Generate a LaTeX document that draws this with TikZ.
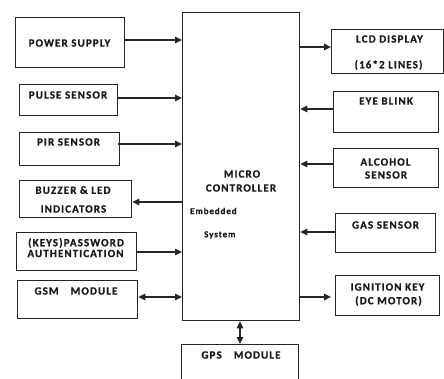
\documentclass[tikz,border=0pt]{standalone}
\usepackage{fontspec}
\setmainfont{Carlito}
\newfontfamily\lblfont{Carlito}[LetterSpace=10,BoldFeatures={FakeBold=0.8}]
\usetikzlibrary{arrows.meta}
\begin{document}
\begin{tikzpicture}[x=1pt,y=-1pt,
  box/.style={draw=black!85,line width=1.3pt,rectangle,inner sep=0pt,anchor=north west},
  txt/.style={inner sep=0pt,font=\lblfont\bfseries\fontsize{11}{12}\selectfont,text=black!90},
  small/.style={inner sep=0pt,anchor=west,font=\lblfont\bfseries\fontsize{9}{10}\selectfont,text=black!90},
  arr/.style={draw=black!85,line width=1.3pt,-{Triangle[length=7pt,width=6.5pt]}},
  darr/.style={draw=black!85,line width=1.3pt,{Triangle[length=7pt,width=6.5pt]}-{Triangle[length=7pt,width=6.5pt]}}]
\useasboundingbox (0,0) rectangle (444,378);
\clip (0,0) rectangle (444,378);
% micro controller
\node[box,minimum width=117pt,minimum height=308pt] (mc) at (182,12) {};
% left boxes
\node[box,minimum width=109pt,minimum height=50pt] (ps) at (15,17) {};
\node[box,minimum width=98pt,minimum height=31pt] (pulse) at (19,84) {};
\node[box,minimum width=100pt,minimum height=33pt] (pir) at (19,132) {};
\node[box,minimum width=112pt,minimum height=37pt] (buz) at (19,180) {};
\node[box,minimum width=120pt,minimum height=38pt] (key) at (16,232) {};
\node[box,minimum width=120pt,minimum height=38pt] (gsm) at (17,280) {};
% right boxes
\node[box,minimum width=112pt,minimum height=44pt] (lcd) at (331,29) {};
\node[box,minimum width=105pt,minimum height=41pt] (eye) at (333,91) {};
\node[box,minimum width=105pt,minimum height=39pt] (alc) at (333,148) {};
\node[box,minimum width=100pt,minimum height=39pt] (gas) at (335,213) {};
\node[box,minimum width=104pt,minimum height=40pt] (ign) at (335,275) {};
% gps
\node[box,minimum width=117pt,minimum height=50pt] (gps) at (181,344) {};
% texts
\node[txt] (t1) at (69.5,43) {POWER SUPPLY};
\node[txt] (t2) at (68,95) {PULSE SENSOR};
\node[txt] (t3) at (68.5,142) {PIR SENSOR};
\node[txt] (t4a) at (73,190) {BUZZER \& LED};
\node[txt] (t4b) at (73.5,209) {INDICATORS};
\node[txt] (t5a) at (76,243) {(KEYS)PASSWORD};
\node[txt] (t5b) at (75.5,253.5) {AUTHENTICATION};
\node[txt] (t6) at (76,291) {GSM\hspace{1.1em}MODULE};
\node[txt] (t7a) at (389.5,39) {LCD DISPLAY};
\node[txt] (t7b) at (388.5,65) {(16*2 LINES)};
\node[txt] (t8) at (386,101) {EYE BLINK};
\node[txt] (t9a) at (385.5,162) {ALCOHOL};
\node[txt] (t9b) at (386,175) {SENSOR};
\node[txt] (t10) at (385.5,225) {GAS SENSOR};
\node[txt] (t11a) at (387.5,287) {IGNITION KEY};
\node[txt] (t11b) at (388.5,301) {(DC MOTOR)};
\node[txt] (t12a) at (242,174) {MICRO};
\node[txt] (t12b) at (241,188) {CONTROLLER};
\node[small] (t13) at (190,211) {Embedded};
\node[small] (t14) at (204,235) {System};
\node[txt] (t15) at (241,355) {GPS\hspace{1.1em}MODULE};
% connectors
\coordinate (y1) at (0,40);
\coordinate (y2) at (0,98);
\coordinate (y3) at (0,144);
\coordinate (y4) at (0,202);
\coordinate (y5) at (0,252);
\coordinate (y6) at (0,297);
\coordinate (y7) at (0,47);
\coordinate (y8) at (0,109);
\coordinate (y9) at (0,164);
\coordinate (y10) at (0,232);
\coordinate (y11) at (0,297);
\coordinate (xg) at (240,0);
\draw[arr] (ps.east |- y1) -- (mc.west |- y1);
\draw[arr] (pulse.east |- y2) -- (mc.west |- y2);
\draw[arr] (pir.east |- y3) ++(-2,0) -- (mc.west |- y3);
\draw[arr] (mc.west |- y4) -- (buz.east |- y4);
\draw[arr] (key.east |- y5) -- (mc.west |- y5);
\draw[darr] (gsm.east |- y6) -- (mc.west |- y6);
\draw[arr] (mc.east |- y7) -- (lcd.west |- y7);
\draw[arr] (eye.west |- y8) -- (mc.east |- y8);
\draw[arr] (alc.west |- y9) -- (mc.east |- y9);
\draw[arr] (gas.west |- y10) -- (mc.east |- y10);
\draw[arr] (mc.east |- y11) -- ([xshift=-4pt]ign.west |- y11);
\draw[darr] (mc.south -| xg) -- (gps.north -| xg);
\end{tikzpicture}
\end{document}
